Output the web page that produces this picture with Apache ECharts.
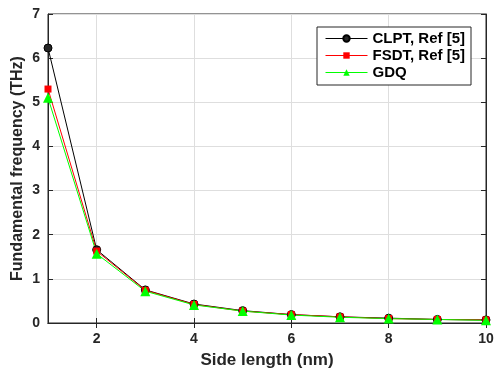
<!DOCTYPE html>
<html>
<head>
<meta charset="utf-8">
<script src="https://cdn.jsdelivr.net/npm/echarts@6/dist/echarts.min.js"></script>
<style>
html, body { margin: 0; padding: 0; background: #fff; }
#main { width: 494px; height: 369px; }
</style>
</head>
<body>
<div id="main"></div>
<script>
// side length (nm)
var sideLength = [1, 2, 3, 4, 5, 6, 7, 8, 9, 10];
// fundamental frequency (THz)
var clptVals = [6.23, 1.66, 0.75, 0.43, 0.28, 0.19, 0.14, 0.11, 0.08, 0.07];
var fsdtVals = [5.30, 1.63, 0.74, 0.42, 0.27, 0.19, 0.14, 0.10, 0.08, 0.07];
var gdqVals = [5.10, 1.57, 0.72, 0.41, 0.27, 0.18, 0.13, 0.10, 0.08, 0.06];
var xTicks = [2, 4, 6, 8, 10];

function pairs(xs, ys) {
    var out = [];
    for (var i = 0; i < xs.length; i++) {
        out.push([xs[i], ys[i]]);
    }
    return out;
}

var chart = echarts.init(document.getElementById('main'));
var fontName = 'Liberation Sans';
var tickFont = { color: '#262626', fontWeight: 'bold', fontSize: 14, fontFamily: fontName };
var tickLine = { color: '#262626', width: 1 };
var gridLine = { show: true, lineStyle: { color: '#dedede' } };

var option = {
    animation: false,
    backgroundColor: '#fff',
    grid: {
        left: 48, right: 8, top: 14, bottom: 46,
        outerBoundsMode: 'none',
        show: true, borderColor: '#262626', borderWidth: 1
    },
    legend: {
        left: 317, top: 27,
        orient: 'vertical',
        backgroundColor: '#fff',
        borderColor: '#262626',
        borderWidth: 1,
        padding: [4, 6, 5, 8],
        itemGap: 2,
        itemWidth: 42,
        itemHeight: 8,
        lineStyle: { width: 1 },
        textStyle: { color: '#000', fontWeight: 'bold', fontSize: 15, fontFamily: fontName },
        data: ['CLPT, Ref [5]', 'FSDT, Ref [5]', 'GDQ']
    },
    xAxis: [{
        type: 'value',
        min: 1, max: 10,
        name: 'Side length (nm)',
        nameLocation: 'middle',
        nameGap: 29,
        nameMoveOverlap: false,
        nameTextStyle: { color: '#262626', fontWeight: 'bold', fontSize: 17, fontFamily: fontName },
        axisLine: { lineStyle: tickLine },
        axisTick: { inside: true, length: 5, customValues: xTicks, lineStyle: tickLine },
        axisLabel: Object.assign({ customValues: xTicks, margin: 9 }, tickFont),
        splitLine: gridLine
    }, {
        type: 'value', position: 'top',
        min: 1, max: 10,
        axisLine: { show: true, lineStyle: tickLine },
        axisTick: { inside: true, length: 5, customValues: xTicks, lineStyle: tickLine },
        axisLabel: { show: false },
        splitLine: { show: false }
    }],
    yAxis: [{
        type: 'value',
        min: 0, max: 7, interval: 1,
        name: 'Fundamental frequency (THz)',
        nameLocation: 'middle',
        nameGap: 22,
        nameMoveOverlap: false,
        nameTextStyle: { color: '#262626', fontWeight: 'bold', fontSize: 16, fontFamily: fontName },
        axisLine: { show: true, lineStyle: tickLine },
        axisTick: { show: true, inside: true, length: 5, lineStyle: tickLine },
        axisLabel: Object.assign({ margin: 8 }, tickFont),
        splitLine: gridLine
    }, {
        type: 'value', position: 'right',
        min: 0, max: 7, interval: 1,
        axisLine: { show: true, lineStyle: tickLine },
        axisTick: { show: true, inside: true, length: 5, lineStyle: tickLine },
        axisLabel: { show: false },
        splitLine: { show: false }
    }],
    series: [
        {
            name: 'CLPT, Ref [5]', type: 'line', data: pairs(sideLength, clptVals),
            symbol: 'circle', symbolSize: 8,
            lineStyle: { color: '#000', width: 1 },
            itemStyle: { color: '#262626', borderColor: '#000', borderWidth: 1 }
        },
        {
            name: 'FSDT, Ref [5]', type: 'line', data: pairs(sideLength, fsdtVals),
            symbol: 'rect', symbolSize: 7,
            lineStyle: { color: '#ff0000', width: 1 },
            itemStyle: { color: '#ff0000' }
        },
        {
            name: 'GDQ', type: 'line', data: pairs(sideLength, gdqVals),
            symbol: 'triangle', symbolSize: 10,
            lineStyle: { color: '#00ff00', width: 1 },
            itemStyle: { color: '#00ff00' }
        }
    ]
};
chart.setOption(option);
</script>
</body>
</html>
